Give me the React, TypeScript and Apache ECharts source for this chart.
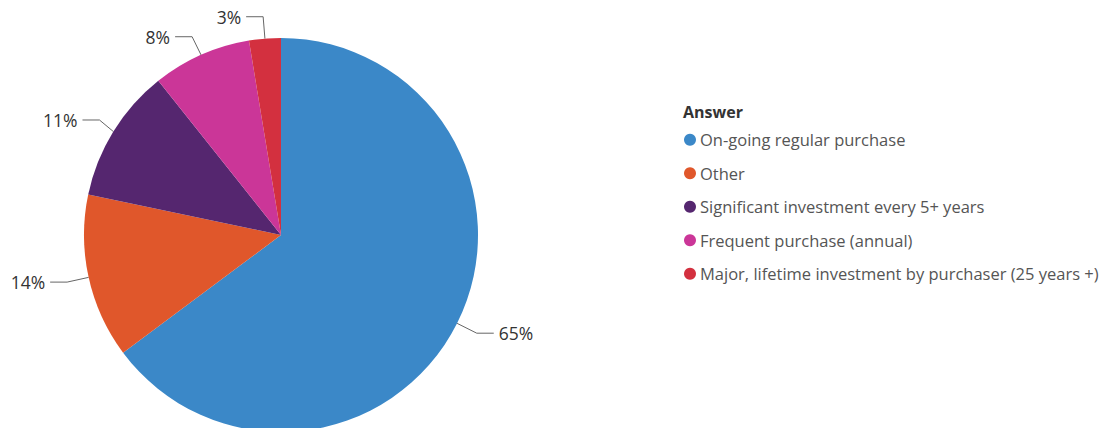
import React, { useEffect, useRef } from "react";
import * as echarts from "echarts";

const categories = [
  "On-going regular purchase",
  "Other",
  "Significant investment every 5+ years",
  "Frequent purchase (annual)",
  "Major, lifetime investment by purchaser (25 years +)",
];
const values = [64.8, 13.5, 11.0, 8.1, 2.6];
const colors = ["#3B88C8", "#E0572B", "#55266F", "#CB3698", "#D3303F"];
const legendTitle = "Answer";

export default function App() {
  const ref = useRef<HTMLDivElement>(null);
  useEffect(() => {
    if (!ref.current) return;
    const chart = echarts.init(ref.current, undefined, { renderer: "svg" });
    const font = "'Open Sans', 'Noto Sans', sans-serif";
    chart.setOption({
      animation: false,
      title: {
        text: legendTitle,
        left: 678,
        top: 99,
        textStyle: { fontFamily: font, fontSize: 16, fontWeight: "bold", color: "#333" },
      },
      legend: {
        orient: "vertical",
        left: 679,
        top: 125,
        icon: "circle",
        itemWidth: 12,
        itemHeight: 12,
        itemGap: 14,
        textStyle: { fontFamily: font, fontSize: 16.5, color: "#555", padding: [0, 0, 0, -1], lineHeight: 19.5 },
        data: categories,
      },
      series: [
        {
          type: "pie",
          center: [281, 235],
          radius: 197,
          startAngle: 90,
          clockwise: true,
          data: categories.map((c, i) => ({ name: c, value: values[i], itemStyle: { color: colors[i] } })),
          label: {
            show: true,
            formatter: (p: any) => Math.round(p.value) + "%",
            fontFamily: font,
            fontSize: 17.5,
            color: "#333",
          },
          labelLine: {
            show: true,
            length: 22,
            length2: 17,
            lineStyle: { color: "#666", width: 1 },
          },
          emphasis: { disabled: true },
        },
      ],
    });
    return () => chart.dispose();
  }, []);
  return (
    <div
      ref={ref}
      style={{ position: "fixed", left: 0, top: 0, width: 1103, height: 428, background: "#fff" }}
    />
  );
}
